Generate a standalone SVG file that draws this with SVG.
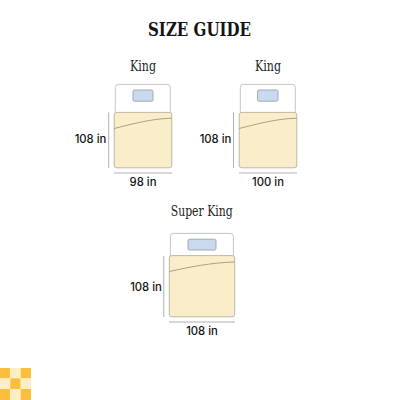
<svg xmlns="http://www.w3.org/2000/svg" width="400" height="400" viewBox="0 0 400 400">
<style>
.title{font-family:"DejaVu Serif","Liberation Serif",serif;font-weight:700;font-size:19px;fill:#141414;text-anchor:middle}
.name{font-family:"DejaVu Serif","Liberation Serif",serif;font-size:15px;fill:#1c1c1c;text-anchor:middle}
.dim{font-family:Inter,"Open Sans",sans-serif;font-size:11.300px;font-weight:500;fill:#141414;text-anchor:middle}
.head{fill:#fff;stroke:#bdbdbd;stroke-width:.9}
.pillow{fill:#c9d9ee;stroke:#9aa3ab;stroke-width:.9}
.duvet{fill:#faedc9;stroke:#b8b19c;stroke-width:.9}
.fold{fill:none;stroke:#968d76;stroke-width:.8}
.rule{fill:none;stroke:#b0b0b0;stroke-width:1}
.o{fill:#fdbd3e}.l{fill:#fdeec4}
</style>
<rect width="400" height="400" fill="#fff"/>
<text class="title" x="199.500" y="36" textLength="103" lengthAdjust="spacingAndGlyphs">SIZE GUIDE</text>
<g id="king-98">
<text class="name" x="143" y="71" textLength="26" lengthAdjust="spacingAndGlyphs">King</text>
<rect class="head" x="115.300" y="84.400" width="55" height="30" rx="3"/>
<rect class="pillow" x="133" y="90" width="20" height="11.200" rx="1.500"/>
<rect class="duvet" x="114.200" y="112.400" width="57.600" height="55.400" rx="2.500"/>
<path class="fold" d="M114.200 128.500C132 124 152 118.600 171.800 118.200"/>
<text class="dim" x="90.500" y="142.500">108 in</text>
<text class="dim" x="143" y="186">98 in</text>
</g>
<g id="king-100">
<text class="name" x="268" y="71" textLength="26" lengthAdjust="spacingAndGlyphs">King</text>
<rect class="head" x="240.300" y="84.400" width="55" height="30" rx="3"/>
<rect class="pillow" x="257.500" y="90" width="20.500" height="11.200" rx="1.500"/>
<rect class="duvet" x="239.200" y="112.400" width="57.600" height="55.400" rx="2.500"/>
<path class="fold" d="M239.200 128.500C257 124 277 118.600 296.800 118.200"/>
<text class="dim" x="268" y="186">100 in</text>
<text class="dim" x="215.500" y="142.500">108 in</text>
</g>
<g id="super-king">
<text class="name" x="201.700" y="216" textLength="62" lengthAdjust="spacingAndGlyphs">Super King</text>
<rect class="head" x="170.400" y="233.400" width="63" height="26" rx="3"/>
<rect class="pillow" x="188" y="239.200" width="28" height="10.800" rx="1.500"/>
<rect class="duvet" x="169.300" y="255.600" width="65.400" height="61.200" rx="2.500"/>
<path class="fold" d="M169.300 271.500C190 267 212 262.500 234.700 262"/>
<text class="dim" x="146" y="291">108 in</text>
<text class="dim" x="202" y="335">108 in</text>
</g>
<g id="connectors">
<path class="rule" d="M108.700 112.400V168"/>
<path class="rule" d="M114 173H172"/>
<path class="rule" d="M233.500 112.400V168"/>
<path class="rule" d="M239 173H297"/>
<path class="rule" d="M163.800 256V317"/>
<path class="rule" d="M169 322H235"/>
</g>
<g id="checker">
<rect class="o" x="0" y="368" width="10.300" height="10.300"/>
<rect class="l" x="10.300" y="368" width="10.400" height="10.300"/>
<rect class="o" x="20.700" y="368" width="10.300" height="10.300"/>
<rect class="l" x="0" y="378.300" width="10.300" height="10.700"/>
<rect class="o" x="10.300" y="378.300" width="10.400" height="10.700"/>
<rect class="l" x="20.700" y="378.300" width="10.300" height="10.700"/>
<rect class="o" x="0" y="389" width="10.300" height="11"/>
<rect class="l" x="10.300" y="389" width="10.400" height="11"/>
<rect class="o" x="20.700" y="389" width="10.300" height="11"/>
</g>
</svg>
